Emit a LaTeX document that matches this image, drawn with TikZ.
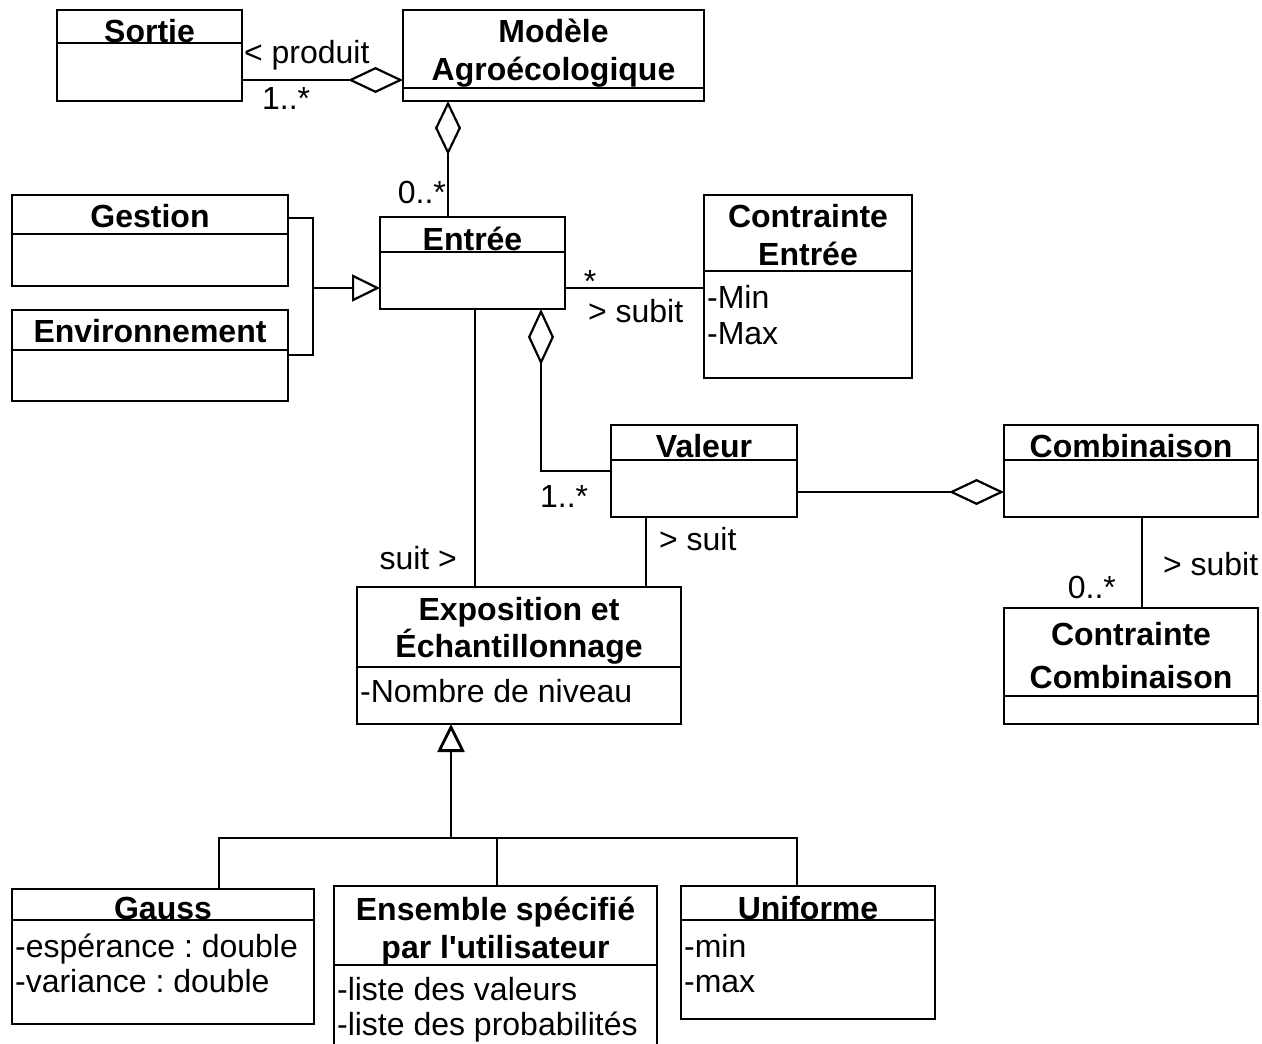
\documentclass[tikz,border=0pt]{standalone}
\usepackage{fontspec}
\setmainfont{Liberation Sans}
\usetikzlibrary{arrows.meta,calc}
\frenchspacing
\newcommand\umlfont{\fontsize{32pt}{38pt}\selectfont}
% class box: name, x1, y1, x2, y2, y of the compartment line
\newcommand\umlbox[6]{%
  \node[umlcls, minimum width={#4-#2}, minimum height={#5-#3}] (#1) at (#2,#3) {};
  \draw (#1.west |- 0,#6) -- (#1.east |- 0,#6);
}
\tikzset{
  umlcls/.style={draw, anchor=north west, inner sep=0pt, outer sep=0pt},
  title/.style={anchor=base, inner sep=0pt, font=\umlfont\bfseries},
  attr/.style={anchor=base west, inner sep=0pt, font=\umlfont},
  lbl/.style={inner sep=0pt, font=\umlfont},
  agg/.style={-{Diamond[open, length=55pt, width=26pt]}},
  aggstart/.style={{Diamond[open, length=56pt, width=26pt]}-},
  gen/.style={-{Triangle[open, length=28pt, width=27pt]}},
}
\begin{document}
\begin{tikzpicture}[x=1pt, y=-1pt, line width=2.2pt]
\fill[white] (0,0) rectangle (1262,1044);
\useasboundingbox (0,0) rectangle (1262,1044);
\clip (0,0) rectangle (1262,1044);

% classes
\umlbox{sortie}{57}{10}{242}{101}{43}
\umlbox{modele}{403}{10}{704}{101}{88}
\umlbox{gestion}{12}{195}{288}{286}{234}
\umlbox{envir}{12}{310}{288}{401}{350}
\umlbox{entree}{380}{217}{565}{309}{252}
\umlbox{cEntree}{704}{195}{912}{378}{271}
\umlbox{valeur}{611}{425}{797}{517}{460}
\umlbox{combi}{1004}{425}{1258}{517}{460}
\umlbox{cCombi}{1004}{608}{1258}{724}{696}
\umlbox{expo}{357}{587}{681}{724}{667}
\umlbox{gauss}{12}{889}{314}{1024}{920}
\umlbox{ensemble}{334}{886}{657}{1060}{965}
\umlbox{uniforme}{681}{886}{935}{1019}{920}

% class names and attributes
\node[title] (tSortie) at (149.5,42) {Sortie};
\node[title] (tModele1) at (553.5,42) {Modèle};
\node[title] (tModele2) at (553.5,80) {Agroécologique};
\node[title] (tGestion) at (150,227) {Gestion};
\node[title] (tEnv) at (150,342) {Environnement};
\node[title] (tEntree) at (472.5,250) {Entrée};
\node[title] (tCE1) at (808,227) {Contrainte};
\node[title] (tCE2) at (808,265) {Entrée};
\node[attr] (aMin) at (706,308) {-Min};
\node[attr] (aMax) at (706,344) {-Max};
\node[title] (tValeur) at (704,457) {Valeur};
\node[title] (tCombi) at (1131,457) {Combinaison};
\node[title] (tCC1) at (1131,645) {Contrainte};
\node[title] (tCC2) at (1131,688) {Combinaison};
\node[title] (tExpo1) at (519,620) {Exposition et};
\node[title] (tExpo2) at (519,657) {Échantillonnage};
\node[attr] (aNiv) at (359,702) {-Nombre de niveau};
\node[title] (tGauss) at (163,919) {Gauss};
\node[attr] (aEsp) at (14,957) {-espérance : double};
\node[attr] (aVar) at (14,992) {-variance : double};
\node[title] (tEns1) at (495.5,920) {Ensemble spécifié};
\node[title] (tEns2) at (495.5,958) {par l\textquotesingle utilisateur};
\node[attr] (aVal) at (336,1000) {-liste des valeurs};
\node[attr] (aProb) at (336,1035) {-liste des probabilités};
\node[title] (tUnif) at (808,919) {Uniforme};
\node[attr] (aUmin) at (683,957) {-min};
\node[attr] (aUmax) at (683,992) {-max};

% Sortie -- Modele (aggregation)
\draw[agg] ([yshift=21pt]sortie.south east) -- ([yshift=21pt]modele.south west);
\node[lbl, anchor=base west] (lProd) at (243,63) {< produit};
\node[lbl, anchor=base west] (lS1) at (261,109) {1..*};

% Entree -- Modele (aggregation)
\coordinate (eTop) at ([xshift=-24.5pt]entree.north);
\draw[agg, -{Diamond[open, length=54pt, width=26pt]}] (eTop) -- (eTop |- modele.south);
\node[lbl, anchor=base east] (lE0) at (447,203) {0..*};

% Gestion, Environnement -> Entree (generalization)
\coordinate (gOut) at ([yshift=-23pt]gestion.north east);
\coordinate (vOut) at ([yshift=-45pt]envir.north east);
\coordinate (eIn) at ([yshift=-25pt]entree.west);
\coordinate (jx) at ($(gOut)+(25,0)$);
\draw (gOut) -- (jx) -- (jx |- vOut) -- (vOut);
\draw[gen] (jx |- eIn) -- (eIn);

% Entree -- Contrainte Entree
\coordinate (eOut) at ([yshift=-25pt]entree.east);
\draw (eOut) -- (eOut -| cEntree.west);
\node[lbl, anchor=base] (lStar) at (590,292) {*};
\node[lbl, anchor=base west] (lSubit) at (587,322) {> subit};

% Entree -- Exposition
\coordinate (eBot) at ([xshift=2.5pt]entree.south);
\draw (eBot) -- (eBot |- expo.north);
\node[lbl, anchor=base east] (lSuit1) at (458,569) {suit >};

% Entree <>-- Valeur
\coordinate (eAgg) at ([xshift=68.5pt]entree.south);
\draw[aggstart] (eAgg) |- (valeur.west);
\node[lbl, anchor=base west] (lV1) at (539,507) {1..*};

% Valeur --<> Combinaison
\coordinate (vOutR) at ([yshift=-21pt]valeur.east);
\draw[agg] (vOutR) -- (vOutR -| combi.west);

% Valeur -- Exposition
\coordinate (vBot) at ([xshift=-58pt]valeur.south);
\draw (vBot) -- (vBot |- expo.north);
\node[lbl, anchor=base west] (lSuit2) at (658,550) {> suit};

% Combinaison -- Contrainte Combinaison
\coordinate (cBot) at ([xshift=11pt]combi.south);
\draw (cBot) -- (cBot |- cCombi.north);
\node[lbl, anchor=base west] (lSubit2) at (1162,575) {> subit};
\node[lbl, anchor=base east] (lC0) at (1117,598) {0..*};

% Gauss, Ensemble, Uniforme -> Exposition (generalization)
\coordinate (bus) at ($(expo.south)+(-68,114)$);
\coordinate (gIn) at ([xshift=56pt]gauss.north);
\coordinate (sIn) at ([xshift=1.5pt]ensemble.north);
\coordinate (uIn) at ([xshift=-11pt]uniforme.north);
\draw (gIn) -- (gIn |- bus) -- (uIn |- bus) -- (uIn);
\draw (sIn) -- (sIn |- bus);
\draw[gen, line width=2.8pt] (bus) -- (bus |- expo.south);
\end{tikzpicture}
\end{document}
